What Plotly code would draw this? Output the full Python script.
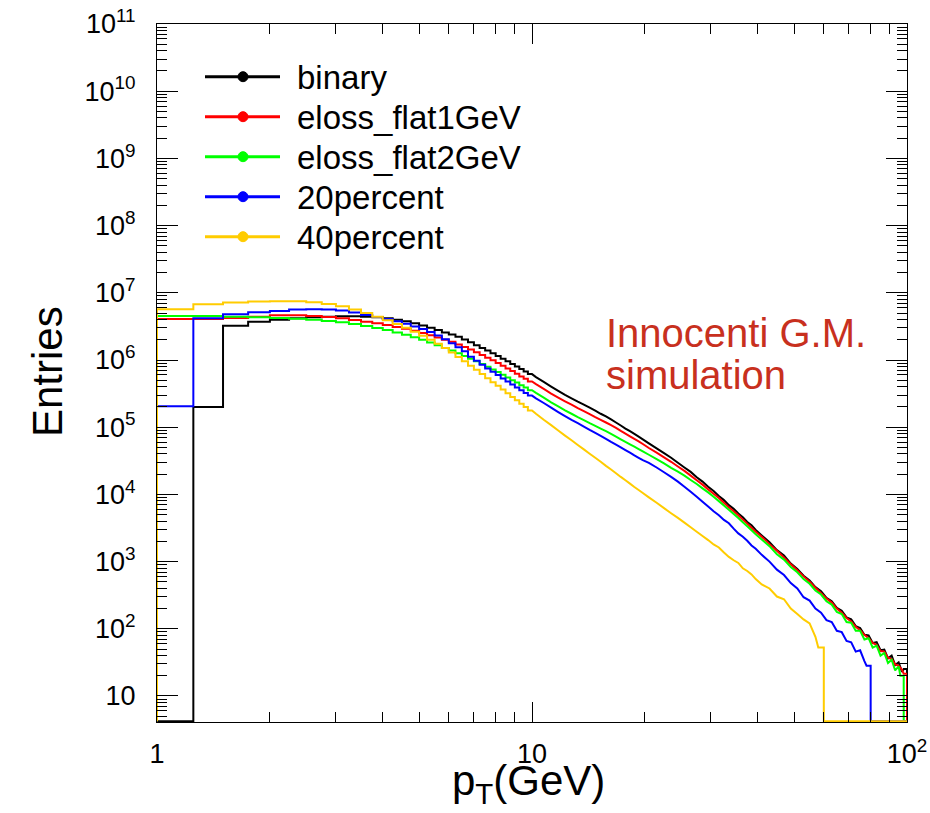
import math
import plotly.graph_objects as go

# ---------------- data ----------------
# histogram bin edges in pT (GeV)
EDGES = [1.0, 1.25, 1.5, 1.75, 2.0, 2.25, 2.5, 2.75, 3.0, 3.25, 3.5, 3.75, 4.0, 4.25, 4.5, 4.75,
         5.0, 5.25, 5.5, 5.75, 6.0, 6.25, 6.5, 6.75, 7.0, 7.25, 7.5, 7.75, 8.0, 8.25, 8.5, 8.75,
         9.0, 9.25, 9.5, 9.75, 10.0,
         10.5, 11.0, 11.5, 12.0, 12.5, 13.0, 13.5, 14.0, 14.5, 15.0, 15.5, 16.0, 16.5, 17.0, 17.5,
         18.0, 18.5, 19.0, 19.5, 20.0,
         21, 22, 23, 24, 25, 26, 27, 28, 29, 30, 31, 32, 33, 34, 35, 36, 37, 38, 39, 40,
         42, 44, 46, 48, 50, 52, 54, 56, 58, 60, 62, 64, 66, 68, 70, 72, 74, 76, 78, 80,
         82, 84, 86, 88, 90, 92, 94, 96, 98, 100]

# bin contents as log10(entries); None = empty bin
BINARY = [None, 5.30, 6.51, 6.57, 6.60, 6.62, 6.635, 6.645, 6.65, 6.65, 6.645, 6.635, 6.62, 6.60,
          6.575, 6.545, 6.515, 6.48, 6.445, 6.41,
          6.38, 6.345, 6.305, 6.265, 6.22, 6.18, 6.14, 6.10, 6.06, 6.02, 5.98, 5.94, 5.905, 5.865,
          5.83, 5.79,
          5.745, 5.675, 5.605, 5.54, 5.48, 5.43, 5.38, 5.335, 5.29, 5.245, 5.20, 5.16, 5.115, 5.07,
          5.025, 4.98, 4.94, 4.90, 4.86, 4.82,
          4.76, 4.685, 4.615, 4.545, 4.47, 4.40, 4.335, 4.255, 4.19, 4.115, 4.05, 3.975, 3.915,
          3.84, 3.785, 3.715, 3.66, 3.59, 3.54, 3.47,
          3.39, 3.29, 3.17, 3.09, 2.97, 2.89, 2.79, 2.72, 2.62, 2.56, 2.46, 2.41, 2.31, 2.27, 2.17,
          2.14, 2.04, 2.01, 1.91, 1.90, 1.79, 1.80, 1.68, 1.69, 1.56, 1.60, 1.46, 1.50, 1.36, 1.40]
ELOSS_FLAT1 = [6.61, 6.61, 6.625, 6.645, 6.665, 6.665, 6.655, 6.64, 6.62, 6.595, 6.57, 6.545, 6.52,
               6.49, 6.465, 6.435, 6.40, 6.37, 6.335, 6.30,
               6.27, 6.23, 6.195, 6.155, 6.115, 6.075, 6.035, 5.995, 5.955, 5.915, 5.875, 5.835,
               5.795, 5.755, 5.72, 5.68,
               5.64, 5.57, 5.50, 5.44, 5.385, 5.335, 5.285, 5.24, 5.195, 5.15, 5.11, 5.07, 5.03,
               4.99, 4.945, 4.905, 4.865, 4.825, 4.79, 4.75,
               4.69, 4.62, 4.55, 4.485, 4.415, 4.35, 4.28, 4.21, 4.145, 4.075, 4.01, 3.945, 3.875,
               3.81, 3.75, 3.69, 3.625, 3.565, 3.505, 3.445,
               3.37, 3.26, 3.16, 3.06, 2.96, 2.87, 2.78, 2.70, 2.61, 2.53, 2.45, 2.39, 2.30, 2.24,
               2.16, 2.11, 2.03, 1.98, 1.91, 1.86, 1.79, 1.76, 1.67, 1.66, 1.57, 1.55, 1.47, 1.45,
               1.39, 1.33]
ELOSS_FLAT2 = [6.655, 6.655, 6.645, 6.635, 6.625, 6.615, 6.60, 6.58, 6.56, 6.535, 6.505, 6.475, 6.445,
               6.41, 6.375, 6.34, 6.30, 6.26, 6.22, 6.18,
               6.14, 6.10, 6.06, 6.02, 5.98, 5.94, 5.90, 5.86, 5.82, 5.78, 5.74, 5.70, 5.665, 5.625,
               5.59, 5.55,
               5.51, 5.44, 5.37, 5.31, 5.25, 5.20, 5.15, 5.105, 5.06, 5.02, 4.98, 4.94, 4.90, 4.86,
               4.82, 4.78, 4.745, 4.71, 4.675, 4.64,
               4.59, 4.525, 4.46, 4.395, 4.34, 4.28, 4.215, 4.155, 4.09, 4.03, 3.965, 3.90, 3.835,
               3.77, 3.71, 3.65, 3.585, 3.525, 3.465, 3.405,
               3.33, 3.23, 3.11, 3.03, 2.92, 2.84, 2.74, 2.67, 2.57, 2.51, 2.41, 2.36, 2.25, 2.22,
               2.10, 2.09, 1.97, 1.97, 1.84, 1.86, 1.72, 1.75, 1.60, 1.64, 1.49, 1.54, 1.38, 1.44,
               1.30, None]
PERCENT20 = [5.31, 6.62, 6.68, 6.71, 6.73, 6.75, 6.755, 6.75, 6.735, 6.705, 6.67, 6.64, 6.61,
             6.575, 6.54, 6.50, 6.46, 6.415, 6.365, 6.31,
             6.25, 6.19, 6.13, 6.05, 5.99, 5.93, 5.875, 5.825, 5.775, 5.725, 5.68, 5.635, 5.59,
             5.55, 5.51, 5.47,
             5.43, 5.36, 5.29, 5.225, 5.165, 5.11, 5.06, 5.01, 4.96, 4.915, 4.87, 4.825, 4.78,
             4.74, 4.70, 4.66, 4.62, 4.58, 4.545, 4.51,
             4.47, 4.40, 4.33, 4.26, 4.19, 4.115, 4.04, 3.965, 3.89, 3.82, 3.75, 3.69, 3.62,
             3.57, 3.49, 3.42, 3.37, 3.31, 3.24, 3.19,
             3.10, 3.00, 2.88, 2.80, 2.68, 2.60, 2.47, 2.42, 2.30, 2.24, 2.13, 2.10, 1.97, 1.95,
             1.82, 1.80, 1.66, 1.68, 1.52, 1.45,
             None, None, None, None, None, None, None, None, None, None]
PERCENT40 = [6.755, 6.83, 6.855, 6.87, 6.875, 6.875, 6.86, 6.835, 6.80, 6.75, 6.70, 6.645, 6.59,
             6.535, 6.48, 6.42, 6.36, 6.30, 6.24, 6.18,
             6.11, 6.045, 5.98, 5.915, 5.855, 5.79, 5.73, 5.67, 5.615, 5.56, 5.505, 5.45, 5.40,
             5.35, 5.30, 5.25,
             5.20, 5.11, 5.03, 4.95, 4.875, 4.805, 4.735, 4.67, 4.605, 4.545, 4.485, 4.425, 4.37,
             4.315, 4.26, 4.21, 4.16, 4.11, 4.065, 4.02,
             3.955, 3.875, 3.795, 3.72, 3.65, 3.58, 3.51, 3.445, 3.38, 3.32, 3.255, 3.21, 3.135,
             3.07, 3.02, 2.98, 2.90, 2.86, 2.81, 2.74,
             2.66, 2.60, 2.48, 2.44, 2.30, 2.22, 2.14, 2.08, 1.88, 1.72,
             None, None, None, None, None, None, None, None, None, None,
             None, None, None, None, None, None, None, None, None, None]

SERIES_NAMES = ["binary", "eloss_flat1GeV", "eloss_flat2GeV", "20percent", "40percent"]
SERIES_VALUES = [BINARY, ELOSS_FLAT1, ELOSS_FLAT2, PERCENT20, PERCENT40]
SERIES_COLORS = ["#000000", "#ff0000", "#00ff00", "#0000ff", "#ffcc00"]

X_MAJOR = [1, 10, 100]
X_MAJOR_TEXT = ["1", "10", "10<sup>2</sup>"]
X_MINOR = [2, 3, 4, 5, 6, 7, 8, 9, 20, 30, 40, 50, 60, 70, 80, 90]
Y_MAJOR = [10 ** k for k in range(1, 12)]
Y_MAJOR_TEXT = ["10"] + ["10<sup>%d</sup>" % k for k in range(2, 12)]
Y_MINOR = [m * 10 ** k for k in range(0, 11) for m in range(2, 10) if m * 10 ** k > 4.2]

# ---------------- layout geometry ----------------
W, H = 930, 813
L, R, T, B = 157, 23, 24, 91
PW, PH = W - L - R, H - T - B
Y_LOG_MIN, Y_LOG_MAX = 0.613, 11.0
FLOOR = 10 ** (Y_LOG_MIN + 0.012)   # empty bins are drawn on the frame bottom
STEP_LIMIT = 10.0                   # above this the narrow bins read as a continuous line
FONT = "Liberation Sans, Arial, Helvetica, sans-serif"


def px(xp):
    return (xp - L) / PW


def py(yp):
    return (H - B - yp) / PH


def histogram_path(edges, logs):
    """ROOT-like histogram outline built from bin edges and contents."""
    n = len(logs)
    ys_val = [FLOOR if v is None else 10 ** v for v in logs]
    xs, ys = [edges[0]], [FLOOR]
    for i in range(n):
        lo, hi = edges[i], edges[i + 1]
        nxt_empty = (i + 1 < n and logs[i + 1] is None) or i == n - 1
        if hi <= STEP_LIMIT or logs[i] is None or nxt_empty:
            xs += [lo, hi]
            ys += [ys_val[i], ys_val[i]]
        else:
            xs.append(math.sqrt(lo * hi))
            ys.append(ys_val[i])
    xs.append(edges[-1])
    ys.append(FLOOR)
    return xs, ys


fig = go.Figure()
for name, logs, color in zip(SERIES_NAMES, SERIES_VALUES, SERIES_COLORS):
    xs, ys = histogram_path(EDGES, logs)
    fig.add_trace(go.Scatter(x=xs, y=ys, mode="lines", name=name, showlegend=False,
                             line=dict(color=color, width=2, simplify=False), hoverinfo="skip"))

axis_common = dict(showline=True, linecolor="black", linewidth=1, mirror="ticks",
                   ticks="inside", tickwidth=1, tickcolor="black", showgrid=False,
                   zeroline=False, automargin=False,
                   tickfont=dict(family=FONT, size=27, color="black"))

fig.update_xaxes(type="log", range=[0, 2], tickmode="array", tickvals=X_MAJOR,
                 ticktext=X_MAJOR_TEXT, ticklen=20, ticklabelstandoff=8,
                 minor=dict(ticks="inside", ticklen=10, tickwidth=1, tickcolor="black",
                            tickmode="array", tickvals=X_MINOR, showgrid=False),
                 **axis_common)
fig.update_yaxes(type="log", range=[Y_LOG_MIN, Y_LOG_MAX], tickmode="array", tickvals=Y_MAJOR,
                 ticktext=Y_MAJOR_TEXT, ticklen=21, ticklabelstandoff=15,
                 minor=dict(ticks="inside", ticklen=10, tickwidth=1, tickcolor="black",
                            tickmode="array", tickvals=Y_MINOR, showgrid=False),
                 **axis_common)

shapes = []
annotations = []
# legend (drawn ROOT-style: long line with a dot in the middle)
LEG_ROWS = [76.7, 116.7, 156.7, 196.7, 236.7]
for name, color, yr in zip(SERIES_NAMES, SERIES_COLORS, LEG_ROWS):
    shapes.append(dict(type="line", xref="paper", yref="paper", x0=px(205), x1=px(280),
                       y0=py(yr), y1=py(yr), line=dict(color=color, width=3)))
    shapes.append(dict(type="circle", xref="paper", yref="paper", xsizemode="pixel",
                       ysizemode="pixel", xanchor=px(243), yanchor=py(yr),
                       x0=-5, x1=5, y0=-5, y1=5, fillcolor=color, line=dict(color=color, width=1)))
    annotations.append(dict(text=name, xref="paper", yref="paper", x=px(295), y=py(yr + 1),
                            xanchor="left", yanchor="middle", showarrow=False,
                            font=dict(family=FONT, size=33, color="black")))

annotations.append(dict(text="Innocenti G.M.", xref="paper", yref="paper", x=px(604), y=py(333),
                        xanchor="left", yanchor="middle", showarrow=False,
                        font=dict(family=FONT, size=40, color="#c8301e")))
annotations.append(dict(text="simulation", xref="paper", yref="paper", x=px(604), y=py(375),
                        xanchor="left", yanchor="middle", showarrow=False,
                        font=dict(family=FONT, size=40, color="#c8301e")))
annotations.append(dict(text="Entries", xref="paper", yref="paper", x=px(47), y=py(372),
                        xanchor="center", yanchor="middle", textangle=-90, showarrow=False,
                        font=dict(family=FONT, size=42, color="black")))
annotations.append(dict(text="p<sub>T</sub>(GeV)", xref="paper", yref="paper", x=px(528), y=py(783),
                        xanchor="center", yanchor="middle", showarrow=False,
                        font=dict(family=FONT, size=42, color="black")))

fig.update_layout(width=W, height=H, autosize=False, margin=dict(l=L, r=R, t=T, b=B),
                  paper_bgcolor="white", plot_bgcolor="white", showlegend=False,
                  shapes=shapes, annotations=annotations)

fig.write_html("out.html")
